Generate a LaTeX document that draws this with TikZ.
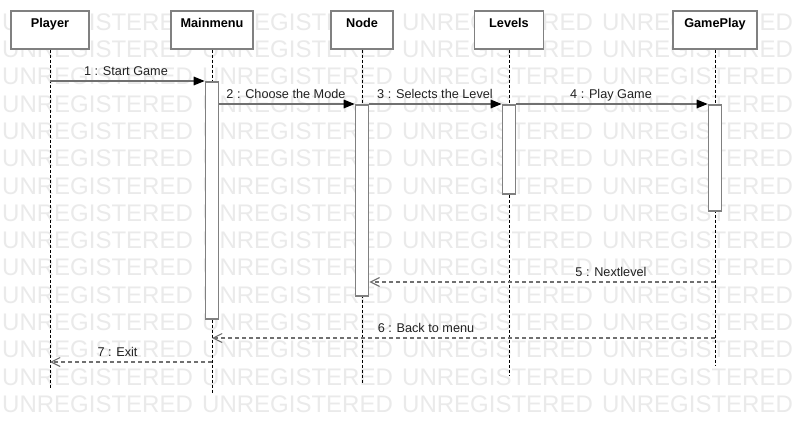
\documentclass[tikz,border=0pt]{standalone}
\usepackage{fontspec}
\setmainfont{Liberation Sans}
\usetikzlibrary{arrows.meta}
\definecolor{wm}{RGB}{234,234,234}
\definecolor{ln}{RGB}{112,112,112}
\definecolor{bx}{RGB}{128,128,128}
\definecolor{tx}{RGB}{34,34,34}
\tikzset{
  wmark/.style={text=wm,font=\fontsize{24}{28}\selectfont,inner sep=0pt,anchor=west},
  head/.style={draw=bx,line width=1.6pt,fill=white,inner sep=0pt,anchor=north,
    minimum height=38pt,text height=17pt,text depth=21pt,
    font=\bfseries\fontsize{12.7}{15}\selectfont,text=black},
  life/.style={draw=black,line width=0.9pt,dash pattern=on 3pt off 2pt},
  act/.style={draw=bx,line width=1.6pt,fill=white,inner sep=0pt,anchor=north,minimum width=13pt},
  msg/.style={draw=ln,line width=1.6pt,-{Triangle[length=11pt,width=8.5pt,fill=black,color=black]}},
  ret/.style={draw=ln,line width=1.4pt,dash pattern=on 4pt off 3pt,-{Straight Barb[length=9pt,width=9pt,line width=1.1pt]}},
  lbl/.style={inner sep=0pt,anchor=base,text=tx,font=\fontsize{12.7}{15}\selectfont}
}
\begin{document}
\begin{tikzpicture}[x=1pt,y=-1pt]
\fill[white] (0,0) rectangle (795,434);
\useasboundingbox (0,0) rectangle (795,434);
% watermark
\foreach \k in {0,...,14}{
  \foreach \xx in {2,202,402,602}{
    \node[wmark] at (\xx,{22+27.3*\k}) {UNREGISTERED};
  }
}
% headers
\node[head,minimum width=78pt] (hPlayer) at (50,10) {Player};
\node[head,minimum width=82pt] (hMain) at (212,10) {Mainmenu};
\node[head,minimum width=62pt] (hNode) at (362,10) {Node};
\node[head,minimum width=69pt] (hLevels) at (509,10) {Levels};
\node[head,minimum width=84pt] (hGame) at (715,10) {GamePlay};
% lifeline ends
\coordinate (ePlayer) at (50,388);
\coordinate (eMain) at (212,393);
\coordinate (eNode) at (362,383);
\coordinate (eLevels) at (509,375);
\coordinate (eGame) at (715,365);
\draw[life] (hPlayer.south) -- (ePlayer);
\draw[life] (hMain.south) -- (eMain);
\draw[life] (hNode.south) -- (eNode);
\draw[life] (hLevels.south) -- (eLevels);
\draw[life] (hGame.south) -- (eGame);
% activations
\node[act,minimum height=237pt] (aMain) at (212,81) {};
\node[act,minimum height=191pt] (aNode) at (362,104) {};
\node[act,minimum height=89pt] (aLevels) at (509,104) {};
\node[act,minimum height=106pt] (aGame) at (715,104) {};
% messages
\coordinate (s1) at (50,81);
\draw[msg] (s1) -- (aMain.north west);
\node[lbl] (l1) at (126,75) {1 : Start Game};
\draw[msg] (aMain.east |- aNode.north) -- (aNode.north west);
\node[lbl] (l2) at (286,98.5) {2 : Choose the Mode};
\draw[msg] (aNode.north east) -- (aLevels.north west);
\node[lbl] (l3) at (435,98.5) {3 : Selects the Level};
\draw[msg] (aLevels.north east) -- (aGame.north west);
\node[lbl] (l4) at (611,98.5) {4 : Play Game};
% returns
\coordinate (r5) at (715,282);
\draw[ret] (r5) -- (r5 -| aNode.east);
\node[lbl] (l5) at (611,276.5) {5 : Nextlevel};
\coordinate (r6) at (715,338);
\draw[ret] (r6) -- (r6 -| hMain.south);
\node[lbl] (l6) at (426,332) {6 : Back to menu};
\coordinate (r7) at (212,362);
\draw[ret] (r7) -- (r7 -| hPlayer.south);
\node[lbl] (l7) at (117.5,356) {7 : Exit};
\end{tikzpicture}
\end{document}
